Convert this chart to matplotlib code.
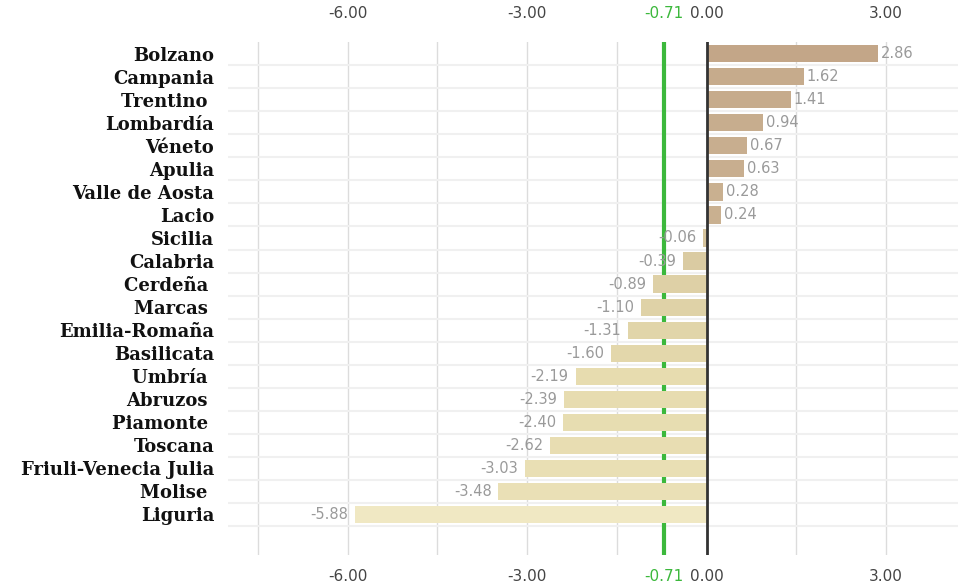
import matplotlib
matplotlib.use("Agg")
import matplotlib.pyplot as plt
import numpy as np
from matplotlib.colors import LinearSegmentedColormap, Normalize

regions = ["Bolzano", "Campania", "Trentino ", "Lombardía", "Véneto", "Apulia",
           "Valle de Aosta", "Lacio", "Sicilia", "Calabria", "Cerdeña ", "Marcas ",
           "Emilia-Romaña", "Basilicata", "Umbría ", "Abruzos ", "Piamonte ",
           "Toscana", "Friuli-Venecia Julia", "Molise ", "Liguria"]
values = [2.86, 1.62, 1.41, 0.94, 0.67, 0.63, 0.28, 0.24, -0.06, -0.39, -0.89,
          -1.10, -1.31, -1.60, -2.19, -2.39, -2.40, -2.62, -3.03, -3.48, -5.88]
average = -0.71
major_ticks = [-6.0, -3.0, 0.0, 3.0]
grid_ticks = [-7.5, -6.0, -4.5, -3.0, -1.5, 0.0, 1.5, 3.0]

W, H = 960, 586
fig = plt.figure(figsize=(W / 100, H / 100), dpi=100)
ax_left, ax_right, ax_top, ax_bottom = 228, 958, 42, 555
ax = fig.add_axes([ax_left / W, 1 - ax_bottom / H, (ax_right - ax_left) / W, (ax_bottom - ax_top) / H])

cmap = LinearSegmentedColormap.from_list(
    "beige", [(0.0, "#f0e8c3"), (0.45, "#e6dbae"), (0.66, "#d8c8a0"), (0.70, "#c9b090"), (1.0, "#c3a688")])
norm = Normalize(min(values), max(values))
colors = [cmap(norm(v)) for v in values]

y = np.arange(len(regions))
ax.barh(y, values, height=0.74, color=colors, zorder=3)

ax.set_xlim(-8.0, 4.2)
ax.set_ylim(len(regions) - 1 + 1.78, -0.52)

# grid lines
for g in grid_ticks:
    ax.axvline(g, color="#dcdcdc", lw=1, zorder=1)
for i in range(len(regions)):
    ax.axhline(i + 0.5, color="#f0f0f0", lw=1.5, zorder=1)

ax.axvline(average, color="#3cb83c", lw=3, zorder=2)
ax.axvline(0, color="#333333", lw=2, zorder=4)

# value labels
for yi, v in zip(y, values):
    if v >= 0:
        ax.annotate(f"{v:.2f}", (v, yi), xytext=(2, 0), textcoords="offset points",
                    ha="left", va="center", fontsize=10.5, color="#9a9a9a", zorder=5)
    else:
        ax.annotate(f"{v:.2f}", (v, yi), xytext=(-5, 0), textcoords="offset points",
                    ha="right", va="center", fontsize=10.5, color="#9a9a9a", zorder=5)

# y labels
ax.set_yticks(y)
ax.set_yticklabels(regions, fontfamily="DejaVu Serif", fontweight="bold", fontsize=13, color="#111111")
ax.tick_params(axis="y", length=0, pad=10)

# x ticks bottom and top, plus green average
ticks = major_ticks + [average]
labels = [f"{t:.2f}" for t in ticks]
ax.set_xticks(ticks)
ax.set_xticklabels(labels)
ax.tick_params(axis="x", length=0, pad=10, labelsize=11, labelcolor="#444444")

top = ax.secondary_xaxis("top")
top.set_xticks(ticks)
top.set_xticklabels(labels)
top.tick_params(axis="x", length=0, pad=15, labelsize=11, labelcolor="#444444")
top.spines["top"].set_visible(False)

for lab in list(ax.get_xticklabels()) + list(top.get_xticklabels()):
    if lab.get_text() == f"{average:.2f}":
        lab.set_color("#3cb83c")

for s in ax.spines.values():
    s.set_visible(False)
ax.grid(False)

fig.savefig("out.png", dpi=100, facecolor="white")
